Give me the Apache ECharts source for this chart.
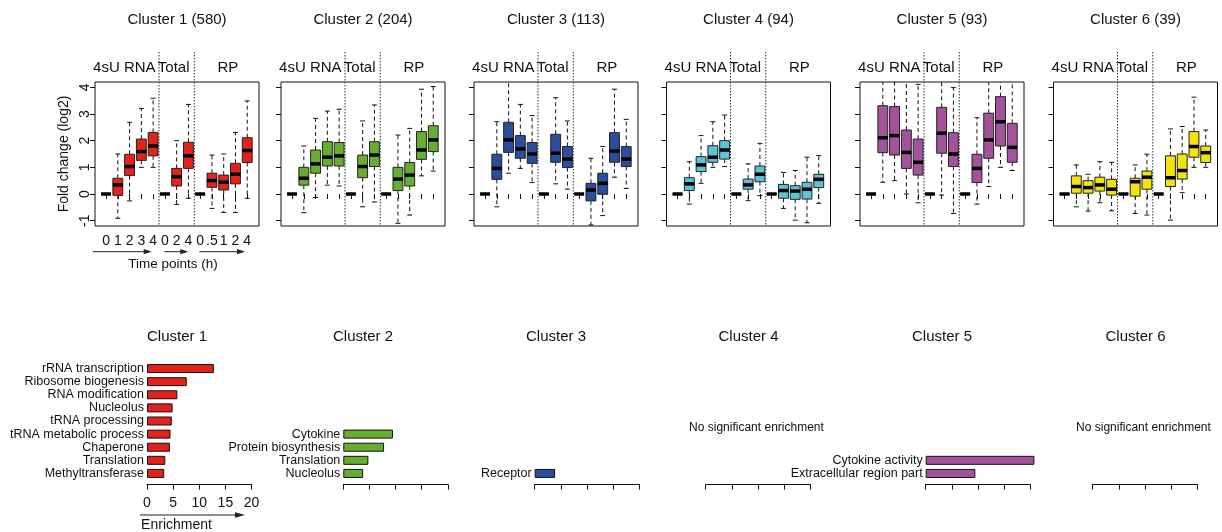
<!DOCTYPE html>
<html>
<head>
<meta charset="utf-8">
<script src="https://cdn.jsdelivr.net/npm/echarts@6/dist/echarts.min.js"></script>
<style>
  html, body { margin: 0; padding: 0; background: #fff; }
  #chart { width: 1222px; height: 532px; }
</style>
</head>
<body>
<div id="chart"></div>
<script>
// ---- cluster metadata ----
const clusterNames = ['Cluster 1', 'Cluster 2', 'Cluster 3', 'Cluster 4', 'Cluster 5', 'Cluster 6'];
const clusterSizes = [580, 204, 113, 94, 93, 39];
const clusterColors = ['#E3221C', '#67AE30', '#2A4D9C', '#5EC3D8', '#A4529B', '#F2E30A'];

// ---- time-course axes ----
const groupLabels = ['4sU RNA', 'Total', 'RP'];
const groupLabelPos = [2.55, 6.75, 11.35];
const groupBreaks = [5.5, 8.5];
const timeLabels = ['0', '1', '2', '3', '4', '0', '2', '4', '0', '.5', '1', '2', '4'];
const foldTicks = [-1, 0, 1, 2, 3, 4];
const enrichTicks = [0, 5, 10, 15, 20];

// ---- box statistics, one row per time point: [lower whisker, Q1, median, Q3, upper whisker] ----
const cluster1Boxes = [
  [0, 0, 0, 0, 0], [-0.91, -0.05, 0.34, 0.59, 1.50], [-0.26, 0.69, 1.03, 1.49, 2.69],
  [1.00, 1.26, 1.59, 2.06, 3.21], [1.00, 1.43, 1.80, 2.31, 3.59],
  [0, 0, 0, 0, 0], [-0.39, 0.30, 0.65, 0.96, 2.00], [-0.16, 0.96, 1.43, 1.94, 3.36],
  [0, 0, 0, 0, 0], [-0.54, 0.25, 0.50, 0.78, 1.46], [-0.69, 0.15, 0.44, 0.71, 1.50],
  [-0.69, 0.38, 0.74, 1.15, 2.31], [-0.16, 1.18, 1.63, 2.11, 3.49]
];
const cluster2Boxes = [
  [0, 0, 0, 0, 0], [-0.70, 0.33, 0.59, 1.00, 1.80], [-0.13, 0.78, 1.13, 1.65, 2.84],
  [0.33, 1.05, 1.38, 1.96, 3.11], [0.30, 1.05, 1.43, 1.93, 3.18],
  [0, 0, 0, 0, 0], [-0.48, 0.61, 1.03, 1.46, 2.74], [-0.30, 1.03, 1.46, 1.96, 3.34],
  [0, 0, 0, 0, 0], [-1.10, 0.13, 0.56, 1.00, 2.21], [-0.79, 0.30, 0.71, 1.18, 2.46],
  [0.68, 1.30, 1.65, 2.34, 3.93], [0.86, 1.59, 2.03, 2.56, 4.03]
];
const cluster3Boxes = [
  [0, 0, 0, 0, 0], [-0.48, 0.55, 0.96, 1.49, 2.71], [0.78, 1.56, 2.03, 2.69, 4.40],
  [0.96, 1.34, 1.69, 2.19, 3.36], [0.43, 1.15, 1.50, 1.93, 2.94],
  [0, 0, 0, 0, 0], [0.38, 1.19, 1.53, 2.24, 3.61], [0.18, 0.99, 1.31, 1.78, 2.74],
  [0, 0, 0, 0, 0], [-1.16, -0.26, 0.15, 0.40, 1.34], [-0.81, -0.01, 0.40, 0.78, 1.78],
  [0.63, 1.19, 1.61, 2.30, 3.93], [0.21, 1.03, 1.31, 1.78, 2.80]
];
const cluster4Boxes = [
  [0, 0, 0, 0, 0], [-0.38, 0.13, 0.38, 0.61, 1.21], [0.40, 0.84, 1.09, 1.40, 2.19],
  [1.00, 1.19, 1.38, 1.81, 2.71], [1.03, 1.31, 1.65, 2.00, 2.96],
  [0, 0, 0, 0, 0], [-0.25, 0.18, 0.34, 0.56, 1.13], [-0.06, 0.46, 0.74, 1.05, 1.90],
  [0, 0, 0, 0, 0], [-0.54, -0.16, 0.13, 0.36, 0.81], [-0.98, -0.20, 0.11, 0.31, 0.88],
  [-1.08, -0.19, 0.18, 0.44, 1.38], [-0.35, 0.24, 0.55, 0.74, 1.44]
];
const cluster5Boxes = [
  [0, 0, 0, 0, 0], [0.44, 1.55, 2.11, 3.31, 4.40], [0.50, 1.46, 2.19, 3.28, 4.40],
  [0.00, 0.96, 1.56, 2.40, 4.40], [-0.33, 0.71, 1.19, 2.06, 4.11],
  [0, 0, 0, 0, 0], [-0.04, 1.53, 2.28, 3.25, 4.40], [-0.73, 1.03, 1.50, 2.30, 3.99],
  [0, 0, 0, 0, 0], [-0.38, 0.43, 0.96, 1.49, 2.86], [0.28, 1.34, 2.03, 3.03, 4.40],
  [1.00, 1.80, 2.71, 3.65, 4.40], [0.88, 1.19, 1.75, 2.65, 4.40]
];
const cluster6Boxes = [
  [0, 0, 0, 0, 0], [-0.48, 0.03, 0.28, 0.68, 1.09], [-0.64, 0.03, 0.24, 0.50, 0.74],
  [-0.33, 0.11, 0.34, 0.63, 1.21], [-0.63, -0.04, 0.18, 0.55, 1.19],
  [0, 0, 0, 0, 0], [-0.73, -0.08, 0.46, 0.59, 1.09], [-0.79, 0.18, 0.63, 0.86, 1.49],
  [0, 0, 0, 0, 0], [-0.98, 0.28, 0.61, 1.43, 2.44], [0.05, 0.56, 0.88, 1.50, 2.53],
  [1.00, 1.38, 1.78, 2.34, 3.63], [1.00, 1.18, 1.55, 1.80, 2.40]
];

// ---- functional enrichment, listed top to bottom ----
const cluster1Terms = ['rRNA transcription', 'Ribosome biogenesis', 'RNA modification', 'Nucleolus',
  'tRNA processing', 'tRNA metabolic process', 'Chaperone', 'Translation', 'Methyltransferase'];
const cluster1Enrichment = [12.8, 7.6, 5.8, 4.9, 4.75, 4.5, 4.4, 3.5, 3.3];
const cluster2Terms = ['Cytokine', 'Protein biosynthesis', 'Translation', 'Nucleolus'];
const cluster2Enrichment = [9.5, 7.8, 4.8, 3.8];
const cluster3Terms = ['Receptor'];
const cluster3Enrichment = [3.9];
const cluster4Terms = [];
const cluster4Enrichment = [];
const cluster5Terms = ['Cytokine activity', 'Extracellular region part'];
const cluster5Enrichment = [20.8, 9.5];
const cluster6Terms = [];
const cluster6Enrichment = [];

const boxSets = [cluster1Boxes, cluster2Boxes, cluster3Boxes, cluster4Boxes, cluster5Boxes, cluster6Boxes];
const termSets = [cluster1Terms, cluster2Terms, cluster3Terms, cluster4Terms, cluster5Terms, cluster6Terms];
const enrichSets = [cluster1Enrichment, cluster2Enrichment, cluster3Enrichment,
  cluster4Enrichment, cluster5Enrichment, cluster6Enrichment];

// ---- layout ----
const FONT = '"Liberation Sans", Arial, Helvetica, sans-serif';
const INK = '#111';
const PANEL_LEFT = [95, 281, 474, 666.5, 860, 1053.5];
const PANEL_TOP = 82, PANEL_W = 164, PANEL_H = 144;
const BAR_LEFT = [147, 343.3, 534.7, 705.7, 925.7, 1092.7];
const BAR_TOP = 362, BAR_W = 104.5, BAR_H = 118;
const SLOTS = 9;
const BOX_WIDTH = 0.84;

const chart = echarts.init(document.getElementById('chart'), null, { renderer: 'canvas' });

function renderBox(params, api) {
  const cs = params.coordSys;
  const top = cs.y, bottom = cs.y + cs.height;
  const clampY = y => Math.max(top, Math.min(bottom, y));
  const x = api.value(0);
  const cx = api.coord([x, 0])[0];
  const yLo = api.coord([x, api.value(1)])[1];
  const yQ1 = api.coord([x, api.value(2)])[1];
  const yMed = api.coord([x, api.value(3)])[1];
  const yQ3 = api.coord([x, api.value(4)])[1];
  const yHi = api.coord([x, api.value(5)])[1];
  const w = api.size([BOX_WIDTH, 0])[0];
  const cap = w / 4;
  const dash = { stroke: INK, lineWidth: 1, lineDash: [4, 3], fill: null };
  const solid = { stroke: INK, lineWidth: 1, fill: null };
  const children = [
    { type: 'line', shape: { x1: cx, y1: yQ3, x2: cx, y2: clampY(yHi) }, style: dash },
    { type: 'line', shape: { x1: cx, y1: yQ1, x2: cx, y2: clampY(yLo) }, style: dash }
  ];
  if (yHi >= top) children.push({ type: 'line', shape: { x1: cx - cap, y1: yHi, x2: cx + cap, y2: yHi }, style: solid });
  if (yLo <= bottom) children.push({ type: 'line', shape: { x1: cx - cap, y1: yLo, x2: cx + cap, y2: yLo }, style: solid });
  children.push({
    type: 'rect',
    shape: { x: cx - w / 2, y: yQ3, width: w, height: Math.max(0, yQ1 - yQ3) },
    style: { fill: api.visual('color'), stroke: '#222', lineWidth: 1 }
  });
  children.push({
    type: 'line', shape: { x1: cx - w / 2, y1: yMed, x2: cx + w / 2, y2: yMed },
    style: { stroke: '#000', lineWidth: 3.5 }
  });
  return { type: 'group', children };
}

function renderBreak(params, api) {
  const cs = params.coordSys;
  const x = api.coord([api.value(0), 0])[0];
  return {
    type: 'line',
    shape: { x1: x, y1: cs.y - 30, x2: x, y2: cs.y + cs.height },
    style: { stroke: '#333', lineWidth: 1, lineDash: [1.5, 1.5] }
  };
}

function renderGroupLabel(params, api) {
  const cs = params.coordSys;
  const x = api.coord([api.value(0), 0])[0];
  return {
    type: 'text',
    x: x, y: cs.y - 14,
    style: {
      text: groupLabels[params.dataIndex], fontSize: 15, fontFamily: FONT, fill: INK,
      align: 'center', verticalAlign: 'middle'
    }
  };
}

const grids = [], xAxes = [], yAxes = [], series = [], graphics = [];
const slotIds = Array.from({ length: SLOTS }, (_, k) => String(k));

for (let i = 0; i < 6; i++) {
  const first = i === 0;
  // time-course panel
  grids.push({ left: PANEL_LEFT[i], top: PANEL_TOP, width: PANEL_W, height: PANEL_H,
    show: true, borderColor: INK, borderWidth: 1, backgroundColor: 'transparent' });
  xAxes.push({
    gridIndex: i, type: 'value', min: 0.06, max: 14.0,
    axisLine: { show: false }, splitLine: { show: false },
    axisTick: { show: true, length: 5, lineStyle: { color: INK }, customValues: timeLabels.map((_, k) => k + 1) },
    axisLabel: {
      show: first, customValues: timeLabels.map((_, k) => k + 1),
      formatter: v => timeLabels[Math.round(v) - 1], fontSize: 14, fontFamily: FONT, color: INK, margin: 8
    }
  });
  yAxes.push({
    gridIndex: i, type: 'value', min: -1.2, max: 4.2,
    axisLine: { show: false }, splitLine: { show: false },
    axisTick: { show: true, length: 5, lineStyle: { color: INK }, customValues: foldTicks },
    axisLabel: { show: first, customValues: foldTicks, rotate: 90, fontSize: 14, fontFamily: FONT, color: INK, margin: 3 },
    name: first ? 'Fold change (log2)' : '', nameLocation: 'middle', nameRotate: 90, nameGap: 24,
    nameTextStyle: { fontSize: 14, fontFamily: FONT, color: INK }
  });
  series.push({
    type: 'custom', xAxisIndex: i, yAxisIndex: i, renderItem: renderBox, silent: true,
    itemStyle: { color: clusterColors[i] },
    encode: { x: 0, y: [1, 2, 3, 4, 5] },
    data: boxSets[i].map((b, k) => [k + 1].concat(b))
  });
  series.push({
    type: 'custom', xAxisIndex: i, yAxisIndex: i, renderItem: renderBreak, silent: true,
    encode: { x: 0, y: 1 }, data: groupBreaks.map(v => [v, 0])
  });
  series.push({
    type: 'custom', xAxisIndex: i, yAxisIndex: i, renderItem: renderGroupLabel, silent: true,
    encode: { x: 0, y: 1 }, data: groupLabelPos.map(v => [v, 0])
  });
  graphics.push({
    type: 'text', x: PANEL_LEFT[i] + PANEL_W / 2, y: 20,
    style: { text: clusterNames[i] + ' (' + clusterSizes[i] + ')', fontSize: 15, fontFamily: FONT, fill: INK,
      align: 'center', verticalAlign: 'middle' }
  });
}

for (let i = 0; i < 6; i++) {
  const g = 6 + i;
  const terms = termSets[i], vals = enrichSets[i], n = terms.length;
  grids.push({ left: BAR_LEFT[i], top: BAR_TOP, width: BAR_W, height: BAR_H });
  xAxes.push({
    gridIndex: g, type: 'value', min: 0, max: 20, interval: 5, offset: 4.5,
    axisLine: { show: true, lineStyle: { color: INK, width: 1 } },
    axisTick: { show: true, length: 5, lineStyle: { color: INK } },
    splitLine: { show: false },
    axisLabel: { show: i === 0, customValues: enrichTicks, fontSize: 14, fontFamily: FONT, color: INK, margin: 12 }
  });
  yAxes.push({
    gridIndex: g, type: 'category', data: slotIds,
    axisLine: { show: false }, axisTick: { show: false }, splitLine: { show: false },
    axisLabel: {
      show: true, interval: 0, margin: 3, fontSize: 12.5, fontFamily: FONT, color: INK,
      formatter: (v, k) => (k < n ? terms[n - 1 - k] : '')
    }
  });
  series.push({
    type: 'bar', xAxisIndex: g, yAxisIndex: g, barWidth: 9, clip: false, silent: true,
    itemStyle: { color: clusterColors[i], borderColor: INK, borderWidth: 1 },
    data: slotIds.map((_, k) => (k < n ? vals[n - 1 - k] : '-'))
  });
  graphics.push({
    type: 'text', x: PANEL_LEFT[i] + PANEL_W / 2, y: 337,
    style: { text: clusterNames[i], fontSize: 15, fontFamily: FONT, fill: INK, align: 'center', verticalAlign: 'middle' }
  });
  if (n === 0) {
    graphics.push({
      type: 'text', x: BAR_LEFT[i] + BAR_W / 2 - 1.5, y: 428,
      style: { text: 'No significant enrichment', fontSize: 12, fontFamily: FONT, fill: INK, align: 'center', verticalAlign: 'middle' }
    });
  }
}

// arrows under the first panel
function arrow(x1, x2, y, head, half) {
  return [
    { type: 'line', shape: { x1: x1, y1: y, x2: x2 - head + 1, y2: y }, style: { stroke: '#222', lineWidth: 1 } },
    { type: 'polygon', shape: { points: [[x2, y], [x2 - head, y - half], [x2 - head, y + half]] }, style: { fill: '#222' } }
  ];
}
graphics.push(...arrow(93, 151.7, 251.7, 8, 2.6));
graphics.push(...arrow(164.3, 188.3, 251.7, 8, 2.6));
graphics.push(...arrow(199.3, 245, 251.7, 8, 2.6));
graphics.push({
  type: 'text', x: 173, y: 264,
  style: { text: 'Time points (h)', fontSize: 13.5, fontFamily: FONT, fill: INK, align: 'center', verticalAlign: 'middle' }
});
graphics.push(...arrow(140, 245, 515, 10, 2.8));
graphics.push({
  type: 'text', x: 176.5, y: 525.5,
  style: { text: 'Enrichment', fontSize: 14, fontFamily: FONT, fill: INK, align: 'center', verticalAlign: 'middle' }
});

chart.setOption({
  animation: false,
  backgroundColor: '#fff',
  textStyle: { fontFamily: FONT },
  grid: grids,
  xAxis: xAxes,
  yAxis: yAxes,
  series: series,
  graphic: { elements: graphics }
});
</script>
</body>
</html>
